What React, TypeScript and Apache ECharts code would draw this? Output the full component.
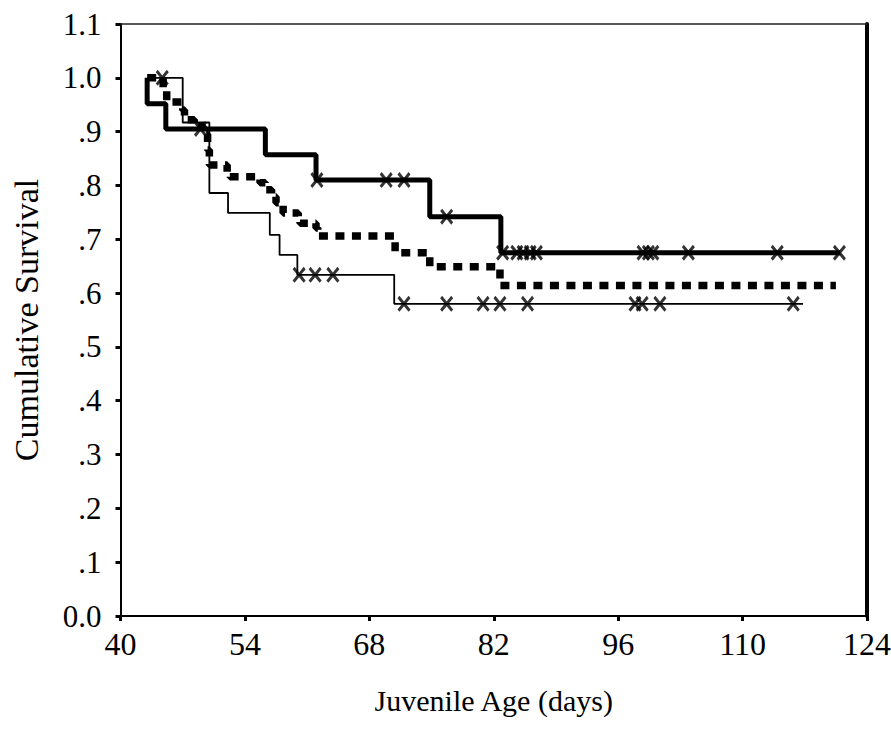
import React, { useEffect, useRef } from "react";
import * as echarts from "echarts";

// Thick solid curve (step points: time, cumulative survival)
const thickTimes = [43, 43, 45.1, 56.3, 62, 74.8, 82.8, 121];
const thickSurv = [1.0, 0.952, 0.905, 0.857, 0.81, 0.742, 0.675, 0.675];
const thickCensor = [49, 62.1, 69.9, 71.9, 76.7, 83.0, 84.6, 85.3, 86.1, 86.8, 98.8, 99.4, 99.9, 103.9, 113.9, 120.9];

// Dotted curve
const dotTimes = [43, 44.8, 45.2, 47, 47.2, 48.3, 49.3, 49.8, 50, 52, 52.3, 55.7, 56.3, 57, 57.5, 58.3, 60, 60.2, 62, 62.2, 70.9, 74.8, 82.7, 120.5];
const dotSurv = [1.0, 0.981, 0.955, 0.94, 0.922, 0.91, 0.895, 0.866, 0.838, 0.825, 0.816, 0.805, 0.792, 0.779, 0.768, 0.749, 0.742, 0.73, 0.721, 0.706, 0.675, 0.649, 0.614, 0.614];

// Thin solid curve
const thinTimes = [43, 47, 50, 52.1, 56.8, 57.9, 59.9, 70.8, 116.8];
const thinSurv = [1.0, 0.917, 0.786, 0.749, 0.708, 0.671, 0.634, 0.58, 0.58];
const thinCensor = [44.7, 60.1, 61.9, 63.9, 71.9, 76.7, 80.8, 82.7, 85.8, 97.9, 98.7, 100.7, 115.7];

const xTicks = [40, 54, 68, 82, 96, 110, 124];

const FONT = "'Liberation Serif', 'DejaVu Serif', serif";
const X_SYMBOL =
  "path://M0,1.5 L1.5,0 L5,3.5 L8.5,0 L10,1.5 L6.5,5 L10,8.5 L8.5,10 L5,6.5 L1.5,10 L0,8.5 L3.5,5 Z";

function pairs(t: number[], s: number[]) {
  return t.map((v, i) => [v, s[i]]);
}
function survAt(t: number[], s: number[], x: number) {
  let v = s[0];
  for (let i = 0; i < t.length; i++) if (t[i] <= x) v = s[i];
  return v;
}

export default function App() {
  const ref = useRef<HTMLDivElement>(null);
  useEffect(() => {
    if (!ref.current) return;
    const chart = echarts.init(ref.current, null, { renderer: "svg" });
    const black = "#000";
    chart.setOption({
      animation: false,
      backgroundColor: "#fff",
      grid: {
        left: 120.5,
        right: 24,
        top: 24,
        bottom: 120,
        containLabel: false,
        outerBoundsMode: "none",
      },
      xAxis: [
        {
          type: "value",
          min: xTicks[0],
          max: xTicks[xTicks.length - 1],
          interval: 14,
          name: "Juvenile Age (days)",
          nameLocation: "middle",
          nameGap: 69,
          nameTextStyle: { fontFamily: FONT, fontSize: 30, color: black },
          axisLine: { show: true, lineStyle: { color: black, width: 2 } },
          axisTick: { show: true, length: 5, lineStyle: { color: black, width: 3 } },
          axisLabel: { fontFamily: FONT, fontSize: 32, color: black, margin: 12 },
          splitLine: { show: false },
        },
        {
          type: "value",
          position: "top",
          min: 40,
          max: 124,
          axisLine: { show: true, onZero: false, lineStyle: { color: "#222", width: 1.5 } },
          axisTick: { show: false },
          axisLabel: { show: false },
          splitLine: { show: false },
        },
      ],
      yAxis: [
        {
          type: "value",
          min: 0,
          max: 1.1,
          interval: 0.1,
          name: "Cumulative Survival",
          nameLocation: "middle",
          nameGap: 77,
          nameTextStyle: { fontFamily: FONT, fontSize: 34, color: black },
          axisLine: { show: true, lineStyle: { color: black, width: 2 } },
          axisTick: { show: true, length: 5, lineStyle: { color: black, width: 3 } },
          axisLabel: {
            fontFamily: FONT,
            fontSize: 31,
            color: black,
            margin: 19,
            formatter: (v: number) => {
              const s = v.toFixed(1);
              if (v > 0 && v < 1) return s.replace("0.", ".");
              return s;
            },
          },
          splitLine: { show: false },
        },
        {
          type: "value",
          position: "right",
          min: 0,
          max: 1.1,
          axisLine: { show: true, onZero: false, lineStyle: { color: black, width: 4 } },
          axisTick: { show: false },
          axisLabel: { show: false },
          splitLine: { show: false },
        },
      ],
      series: [
        {
          type: "line",
          step: "end",
          symbol: "none",
          data: pairs(thinTimes, thinSurv),
          lineStyle: { color: black, width: 1.8 },
          z: 2,
        },
        {
          type: "line",
          step: "end",
          symbol: "none",
          data: pairs(dotTimes, dotSurv),
          lineStyle: { color: black, width: 7.5, type: [9, 7.5], cap: "butt" },
          z: 3,
        },
        {
          type: "line",
          step: "end",
          symbol: "none",
          data: pairs(thickTimes, thickSurv),
          lineStyle: { color: black, width: 5 },
          z: 4,
        },
        {
          type: "scatter",
          symbol: X_SYMBOL,
          symbolSize: [13, 16],
          itemStyle: { color: black },
          data: thickCensor.map((x) => [x, survAt(thickTimes, thickSurv, x)]),
          z: 5,
        },
        {
          type: "scatter",
          symbol: X_SYMBOL,
          symbolSize: [13, 16],
          itemStyle: { color: black },
          data: thinCensor.map((x) => [x, survAt(thinTimes, thinSurv, x)]),
          z: 5,
        },
      ],
    });
    return () => chart.dispose();
  }, []);
  return (
    <div
      ref={ref}
      style={{ position: "fixed", left: 0, top: 0, width: 891, height: 736, background: "#fff" }}
    />
  );
}
